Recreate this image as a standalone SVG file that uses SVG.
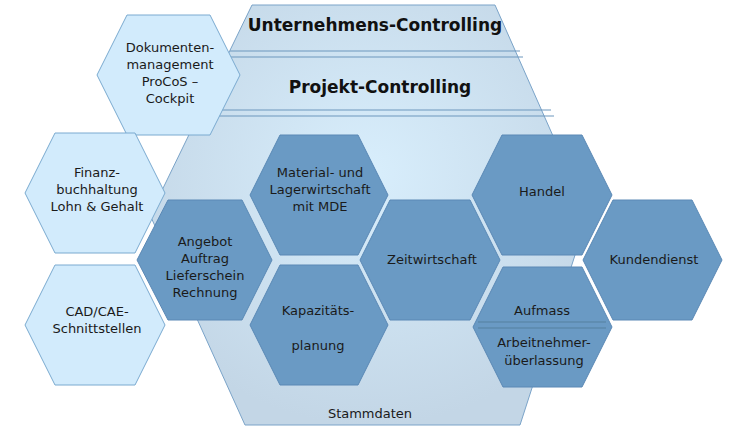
<svg xmlns="http://www.w3.org/2000/svg" width="738" height="432" viewBox="0 0 738 432">
<defs>
<radialGradient id="bg" cx="0.5" cy="0.4" r="0.6"><stop offset="0" stop-color="#d8eefc"/><stop offset="1" stop-color="#c3d6e6"/></radialGradient>
<style>
.d{fill:#6a9ac4;stroke:#5a88b5;stroke-width:1}
.l{fill:#d2ebfc;stroke:#7aaad0;stroke-width:1}
.t{font-family:"DejaVu Sans",sans-serif;font-size:13px;fill:#1a1a1a;text-anchor:middle}
.h{font-family:"DejaVu Sans",sans-serif;font-weight:bold;font-size:17px;fill:#111;text-anchor:middle}
.ln{stroke:#6d97bd;stroke-width:1}
</style>
</defs>
<g id="base">
<polygon points="252,5 495,5 588,215 520,425 245,425 150,215" fill="url(#bg)" stroke="#7aa3c8"/>
<line class="ln" x1="230" y1="51" x2="520" y2="51"/><line class="ln" x1="228" y1="57" x2="523" y2="57"/>
<line class="ln" x1="216" y1="110" x2="551" y2="110"/><line class="ln" x1="214" y1="116" x2="554" y2="116"/>
<text class="h" x="375" y="31">Unternehmens-Controlling</text>
<text class="h" x="380" y="93">Projekt-Controlling</text>
<text class="t" x="370" y="418">Stammdaten</text>
</g>
<g id="dok"><polygon class="l" points="127,15 210,15 240,75 210,135 127,135 97,75"/>
<text class="t" x="170" y="52">Dokumenten-</text><text class="t" x="170" y="69">management</text><text class="t" x="170" y="86">ProCoS –</text><text class="t" x="170" y="103">Cockpit</text></g>
<g id="fin"><polygon class="l" points="55,133 135,133 165,193 135,253 55,253 25,193"/>
<text class="t" x="97" y="177">Finanz-</text><text class="t" x="97" y="194">buchhaltung</text><text class="t" x="97" y="211">Lohn &amp; Gehalt</text></g>
<g id="cad"><polygon class="l" points="55,265 135,265 165,325 135,385 55,385 25,325"/>
<text class="t" x="97" y="316">CAD/CAE-</text><text class="t" x="97" y="333">Schnittstellen</text></g>
<g id="angebot"><polygon class="d" points="168,200 242,200 272,260 242,320 168,320 137,260"/>
<text class="t" x="205" y="246">Angebot</text><text class="t" x="205" y="263">Auftrag</text><text class="t" x="205" y="280">Lieferschein</text><text class="t" x="205" y="297">Rechnung</text></g>
<g id="material"><polygon class="d" points="280,135 358,135 388,195 358,255 280,255 250,195"/>
<text class="t" x="320" y="177">Material-  und</text><text class="t" x="320" y="194">Lagerwirtschaft</text><text class="t" x="320" y="211">mit MDE</text></g>
<g id="kap"><polygon class="d" points="280,265 358,265 388,325 358,385 280,385 250,325"/>
<text class="t" x="318" y="315">Kapazitäts-</text><text class="t" x="318" y="350">planung</text></g>
<g id="zeit"><polygon class="d" points="390,200 470,200 500,260 470,320 390,320 360,260"/>
<text class="t" x="432" y="264">Zeitwirtschaft</text></g>
<g id="handel"><polygon class="d" points="502,135 582,135 612,195 582,255 502,255 472,195"/>
<text class="t" x="542" y="196">Handel</text></g>
<g id="kunden"><polygon class="d" points="613,200 692,200 722,260 692,320 613,320 583,260"/>
<text class="t" x="654" y="264">Kundendienst</text></g>
<g id="aufmass"><polygon class="d" points="503,267 582,267 612,327 582,387 503,387 473,327"/>
<line x1="478" y1="322" x2="606" y2="322" stroke="#55809f"/><line x1="478" y1="328" x2="606" y2="328" stroke="#55809f"/>
<text class="t" x="542" y="315">Aufmass</text><text class="t" x="544" y="347">Arbeitnehmer-</text><text class="t" x="544" y="365">überlassung</text></g>
<g id="connectors"/>
</svg>
